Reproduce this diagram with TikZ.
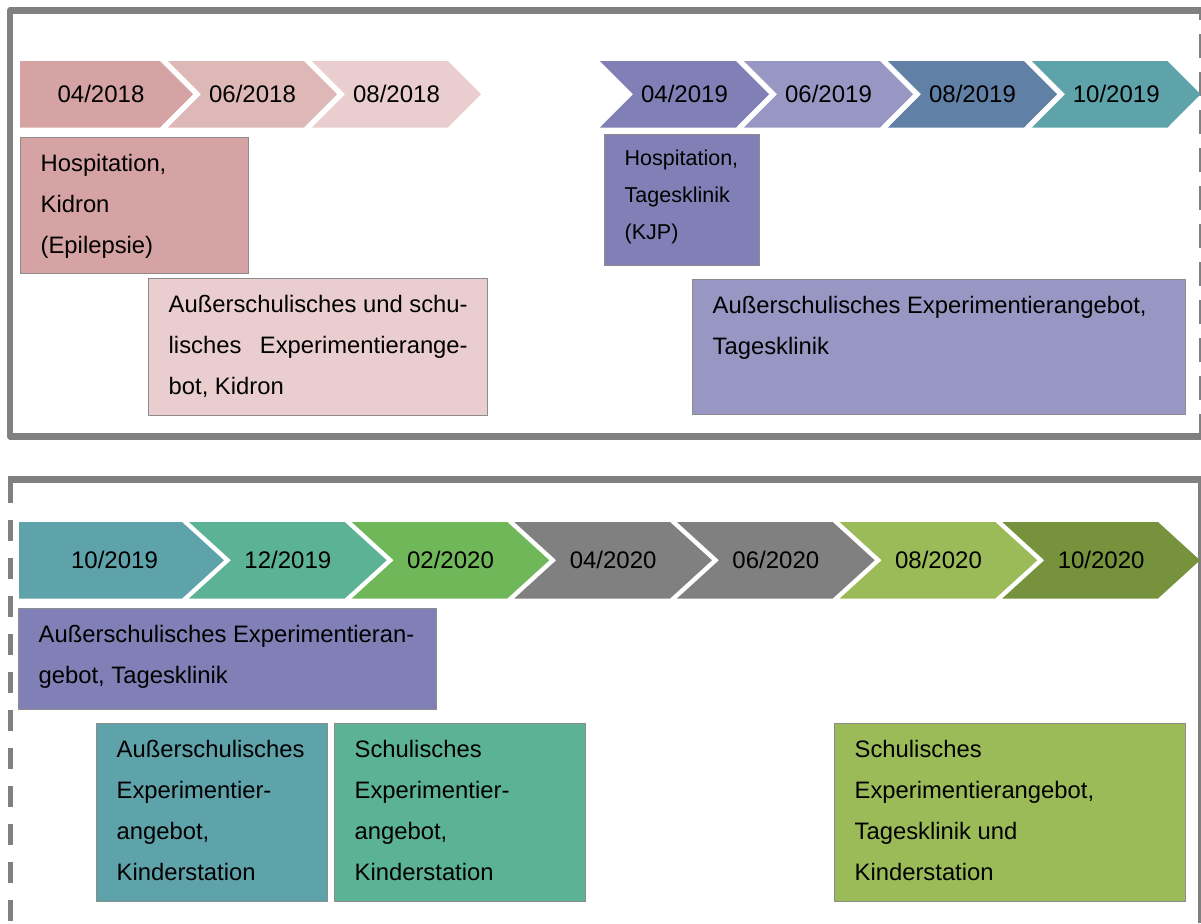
\documentclass[tikz,border=0pt]{standalone}
\usepackage{fontspec}
\setmainfont{Liberation Sans}

\definecolor{roseA}{RGB}{213,163,163}
\definecolor{roseB}{RGB}{222,183,183}
\definecolor{roseC}{RGB}{234,206,207}
\definecolor{lilacA}{RGB}{128,128,182}
\definecolor{lilacB}{RGB}{152,151,196}
\definecolor{steel}{RGB}{96,128,166}
\definecolor{tealA}{RGB}{94,162,170}
\definecolor{tealB}{RGB}{92,178,148}
\definecolor{leafA}{RGB}{112,183,90}
\definecolor{leafB}{RGB}{155,187,89}
\definecolor{leafC}{RGB}{118,146,60}
\definecolor{greyA}{RGB}{128,128,128}
\definecolor{boxline}{RGB}{140,140,140}

\tikzset{
  datum/.style={font=\fontsize{12}{14}\selectfont, inner sep=0pt},
  infobox/.style={draw=boxline, line width=0.7pt, anchor=north west,
    inner xsep=10pt, inner ysep=0pt},
  frame/.style={draw=greyA}
}

% chevron: name, colour, left x, tip x, label
\newcommand{\chev}[5]{%
  \fill[#2] (#3,\ytop) -- ({#4-\dep},\ytop) -- (#4,\ymid) -- ({#4-\dep},\ybot)
    -- (#3,\ybot) -- ({#3+\dep},\ymid) -- cycle;
  \node[datum] (#1) at ({(#3+#4)/2},\ymid) {#5};}
\newcommand{\chevfirst}[5]{%
  \fill[#2] (#3,\ytop) -- ({#4-\dep},\ytop) -- (#4,\ymid) -- ({#4-\dep},\ybot)
    -- (#3,\ybot) -- cycle;
  \node[datum] (#1) at ({(#3+#4)/2-\dep/6},\ymid) {#5};}
\newcommand{\boxtext}[4][\fontsize{11.9}{20.5}\selectfont]{%
  \parbox[c][#3][t]{#2}{#1\raggedright\rule{0pt}{1.42em}#4}}

\begin{document}
\begin{tikzpicture}[x=0.5pt, y=-0.5pt, line join=round]
\useasboundingbox (0,0) rectangle (1201,923);

% 2018 / 2019
\draw[frame, line width=3.2pt] (1201,10.3) -- (10.2,10.3) -- (10.2,436.5) -- (1201,436.5);
\draw[frame, line width=1.5pt, dash pattern=on 12pt off 7pt, dash phase=7pt]
  (1200,10) -- (1200,436);

\def\ytop{61}\def\ybot{127.5}\def\ymid{94.25}\def\dep{33}
\chevfirst{d_04_18}{roseA}{20}{193}{04/2018}
\chev{d_06_18}{roseB}{168}{337}{06/2018}
\chev{d_08_18}{roseC}{312}{481}{08/2018}
\chev{d_04_19}{lilacA}{600}{769}{04/2019}
\chev{d_06_19}{lilacB}{744}{913}{06/2019}
\chev{d_08_19}{steel}{888}{1057}{08/2019}
\chev{d_10_19}{tealA}{1032}{1200.5}{10/2019}

\node[infobox, fill=roseA] (hosp_kidron) at (20,137)
  {\boxtext{94pt}{68pt}{Hospitation,\\Kidron\\(Epilepsie)}};
\node[infobox, fill=roseC] (exp_kidron) at (148,278)
  {\boxtext{149.5pt}{68.5pt}{Außerschulisches und schu-\\
   \makebox[\linewidth][s]{lisches Experimentierange-}\\bot, Kidron}};
\node[infobox, fill=lilacA] (hosp_tk) at (604,134)
  {\boxtext[\fontsize{10.75}{18.5}\selectfont]{57.5pt}{65.5pt}{Hospitation,\\Tagesklinik\\(KJP)}};
\node[infobox, fill=lilacB] (exp_tk) at (692,279)
  {\boxtext{226.5pt}{67.5pt}{Außerschulisches Experimentierangebot,\\Tagesklinik}};

% 2019 / 2020
\draw[frame, line width=3.5pt] (8,479) -- (1201,479);
\draw[frame, line width=1.5pt] (1199.8,479) -- (1199.8,923);
\draw[frame, line width=2.4pt, dash pattern=on 10.5pt off 8.5pt] (10.5,482) -- (10.5,923);

\def\ytop{522}\def\ybot{598.5}\def\ymid{560.25}\def\dep{42}
\chevfirst{e_10_19}{tealA}{19}{224}{10/2019}
\chev{e_12_19}{tealB}{189}{386.7}{12/2019}
\chev{e_02_20}{leafA}{351.7}{549.3}{02/2020}
\chev{e_04_20}{greyA}{514.3}{712}{04/2020}
\chev{e_06_20}{greyA}{677}{874.7}{06/2020}
\chev{e_08_20}{leafB}{839.7}{1037.3}{08/2020}
\chev{e_10_20}{leafC}{1002.3}{1200}{10/2020}

\node[infobox, fill=lilacA] (exp_tk2) at (18,608)
  {\boxtext{189pt}{50.5pt}{Außerschulisches Experimentieran-\\gebot, Tagesklinik}};
\node[infobox, fill=tealA] (exp_ks) at (96,723)
  {\boxtext{95.25pt}{89pt}{Außerschulisches\\Experimentier-\\angebot,\\Kinderstation}};
\node[infobox, fill=tealB] (schul_ks) at (334,723)
  {\boxtext{105.5pt}{89pt}{Schulisches\\Experimentier-\\angebot,\\Kinderstation}};
\node[infobox, fill=leafB] (schul_tk_ks) at (834,723)
  {\boxtext{155.25pt}{89pt}{Schulisches\\Experimentierangebot,\\Tagesklinik und\\Kinderstation}};
\end{tikzpicture}
\end{document}
